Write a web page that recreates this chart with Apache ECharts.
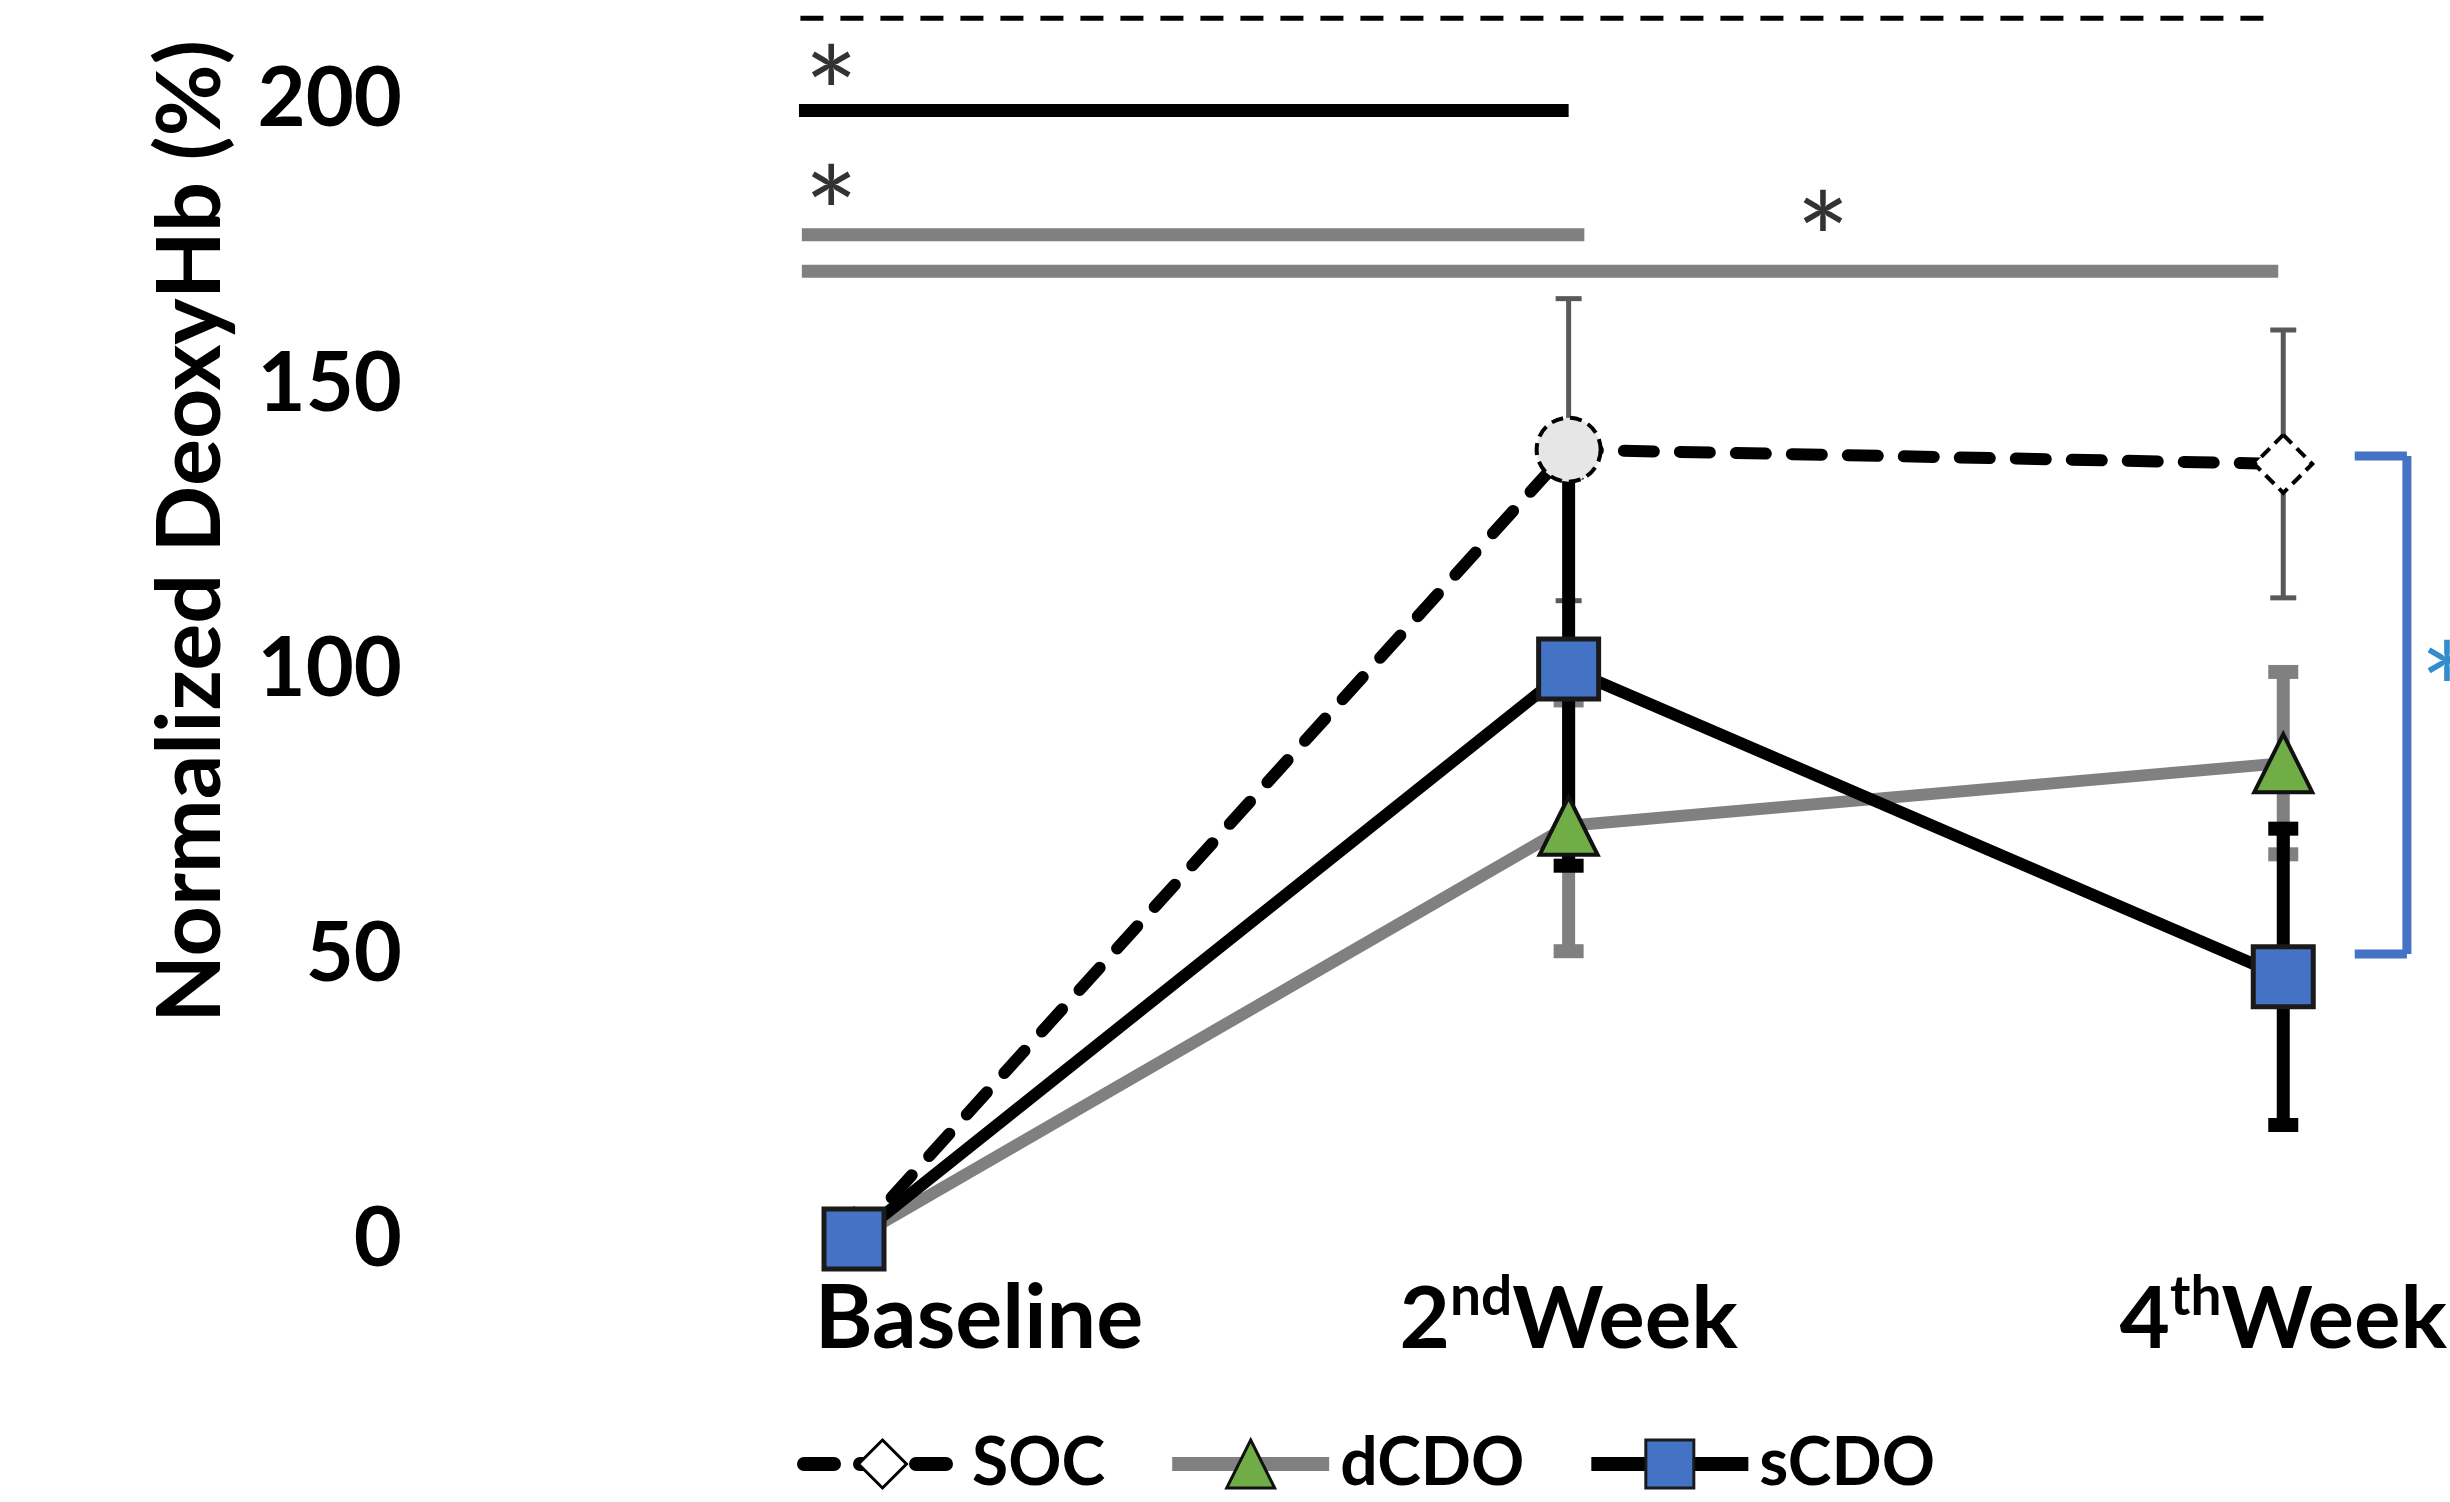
<!DOCTYPE html>
<html><head><meta charset="utf-8">
<script src="https://cdn.jsdelivr.net/npm/echarts@6/dist/echarts.min.js"></script>
<style>html,body{margin:0;padding:0;background:#fff}#c{width:2450px;height:1502px}</style>
</head><body><div id="c"></div>
<script>
// ---------- data ----------
const categories = ['Baseline', '2nd Week', '4th Week'];
const catMain = ['Baseline', '2', '4'];
const catSup = ['', 'nd', 'th'];
const catTail = ['', 'Week', 'Week'];
const yTicks = [0, 50, 100, 150, 200];

const socMean = [0, 138.5, 136];
const socErr = [0, 26.5, 23.5];
const dcdoMean = [0, 72.5, 83.5];
const dcdoErr = [0, 22, 16];
const scdoMean = [0, 100, 46];
const scdoErr = [0, 34.5, 26];

// significance annotations: polylines of [x (category index units), y (%)]
const sigSocAll = [[-0.075, 214.2], [1.995, 214.2]];
const sigScdo = [[-0.077, 198], [1.0, 198]];
const sigDcdo2 = [[-0.073, 176.2], [1.022, 176.2]];
const sigDcdo4 = [[-0.073, 169.8], [1.993, 169.8]];
const bracketWk4 = [[2.10, 137.4], [2.173, 137.4], [2.173, 50], [2.10, 50]];
const starsBlack = [[-0.032, 206], [-0.032, 185], [1.356, 180.4]];
const starsBlue = [[2.229, 101.4]];

// ---------- chart ----------
const FONT = 'Lato';
const chart = echarts.init(document.getElementById('c'), null, {renderer: 'canvas'});

function errSeries(mean, err, color, lw, capW, capLw, z) {
  return {
    type: 'custom', z: z, silent: true, clip: false,
    data: mean.map((m, i) => [i, m, err[i]]),
    encode: {x: 0, y: 1},
    renderItem: function (params, api) {
      const x = api.value(0), m = api.value(1), e = api.value(2);
      if (!e) return null;
      const t = api.coord([x, m + e]), b = api.coord([x, m - e]);
      return {type: 'group', children: [
        {type: 'line', shape: {x1: t[0], y1: t[1], x2: b[0], y2: b[1]}, style: {stroke: color, lineWidth: lw, fill: null}},
        {type: 'line', shape: {x1: t[0] - capW / 2, y1: t[1], x2: t[0] + capW / 2, y2: t[1]}, style: {stroke: color, lineWidth: capLw, fill: null}},
        {type: 'line', shape: {x1: b[0] - capW / 2, y1: b[1], x2: b[0] + capW / 2, y2: b[1]}, style: {stroke: color, lineWidth: capLw, fill: null}}
      ]};
    }
  };
}

function annLine(points, color, width, dash) {
  const segs = [];
  for (let i = 0; i + 1 < points.length; i++) {
    segs.push([points[i][0], points[i][1], points[i + 1][0], points[i + 1][1]]);
  }
  return {
    type: 'custom', z: 1, silent: true, clip: false,
    data: segs,
    encode: {x: [0, 2], y: [1, 3]},
    renderItem: function (params, api) {
      const a = api.coord([api.value(0), api.value(1)]);
      const b = api.coord([api.value(2), api.value(3)]);
      return {type: 'line', shape: {x1: a[0], y1: a[1], x2: b[0], y2: b[1]},
        style: {stroke: color, lineWidth: width, fill: null, lineDash: dash || null, lineCap: 'butt'}};
    }
  };
}

function stars(data, color) {
  return {
    type: 'scatter', data: data, symbolSize: 1, clip: false, silent: true, z: 6,
    itemStyle: {color: 'rgba(0,0,0,0)'},
    label: {show: true, position: 'inside', formatter: '*', color: color, offset: [0, 34],
      fontFamily: FONT, fontWeight: 'normal', fontSize: 128}
  };
}

const socPointStyle = [
  {},
  {symbol: 'circle', symbolSize: 64, itemStyle: {color: '#E6E6E6'}},
  {}
];

const option = {
  animation: false,
  backgroundColor: '#ffffff',
  grid: {left: 854, right: 157, top: 8, bottom: 263, containLabel: false},
  xAxis: {
    type: 'value', min: 0, max: 2, interval: 1,
    axisLine: {show: false}, axisTick: {show: false}, splitLine: {show: false},
    axisLabel: {
      margin: 31,
      formatter: function (v) {
        const i = Math.round(v);
        if (!catSup[i]) return '{b|' + catMain[i] + '}';
        return '{m|' + catMain[i] + '}{s|' + catSup[i] + '}{m|' + catTail[i] + '}';
      },
      rich: {
        b: {fontFamily: FONT, fontWeight: 'bold', fontSize: 88, color: '#000', lineHeight: 100, padding: [0, 0, 0, 250]},
        m: {fontFamily: FONT, fontWeight: 'bold', fontSize: 87, color: '#000', lineHeight: 100},
        s: {fontFamily: FONT, fontWeight: 'bold', fontSize: 55, color: '#000', lineHeight: 60, verticalAlign: 'top'}
      }
    }
  },
  yAxis: {
    type: 'value', min: 0, max: 216, interval: 50,
    axisLine: {show: false}, axisTick: {show: false}, splitLine: {show: false},
    axisLabel: {
      margin: 452, showMaxLabel: false,
      fontFamily: FONT, fontWeight: 'bold', fontSize: 83, color: '#000',
      formatter: function (v) { return yTicks.indexOf(v) >= 0 ? String(v) : ''; }
    },
    name: 'Normalized DeoxyHb (%)', nameLocation: 'middle', nameRotate: 90, nameGap: 618,
    nameTextStyle: {fontFamily: FONT, fontWeight: 'bold', fontSize: 88, color: '#000', padding: [0, 0, 0, 184]}
  },
  legend: {
    data: ['SOC', 'dCDO', 'sCDO'],
    left: 797, top: 1431, padding: 0,
    itemWidth: 157, itemHeight: 60, itemGap: 60,
    selectedMode: false,
    lineStyle: {width: 14},
    itemStyle: {borderWidth: 3},
    textStyle: {fontFamily: FONT, fontWeight: 'bold', fontSize: 66, color: '#000', padding: [0, 0, 0, 6]}
  },
  series: [
    annLine(sigSocAll, '#000000', 5, [23, 17]),
    annLine(sigScdo, '#000000', 13),
    annLine(sigDcdo2, '#808080', 13),
    annLine(sigDcdo4, '#808080', 13),
    annLine(bracketWk4, '#4472C4', 9),
    errSeries(socMean, socErr, '#595959', 5, 26, 5, 2),
    errSeries(dcdoMean, dcdoErr, '#808080', 13, 30, 14, 2),
    errSeries(scdoMean, scdoErr, '#000000', 13, 30, 14, 2),
    {
      type: 'line', name: 'dCDO', z: 3,
      data: dcdoMean.map((v, i) => [i, v]),
      symbol: 'triangle', symbolSize: 58,
      lineStyle: {color: '#808080', width: 12},
      itemStyle: {color: '#70AD47', borderColor: '#111111', borderWidth: 4},
      emphasis: {disabled: true}
    },
    {
      type: 'line', name: 'SOC', z: 3,
      data: socMean.map((v, i) => Object.assign({value: [i, v]}, socPointStyle[i])),
      symbol: 'diamond', symbolSize: 58,
      lineStyle: {color: '#000000', width: 12, type: [30, 26], cap: 'round'},
      itemStyle: {color: '#ffffff', borderColor: '#000000', borderWidth: 4, borderType: [12, 7]},
      emphasis: {disabled: true}
    },
    {
      type: 'line', name: 'sCDO', z: 4,
      data: scdoMean.map((v, i) => [i, v]),
      symbol: 'rect', symbolSize: 60,
      lineStyle: {color: '#000000', width: 12},
      itemStyle: {color: '#4472C4', borderColor: '#1a1a1a', borderWidth: 5},
      emphasis: {disabled: true}
    },
    stars(starsBlack, '#000000'),
    stars(starsBlue, '#0070C0')
  ]
};
chart.setOption(option);
</script>
</body></html>
